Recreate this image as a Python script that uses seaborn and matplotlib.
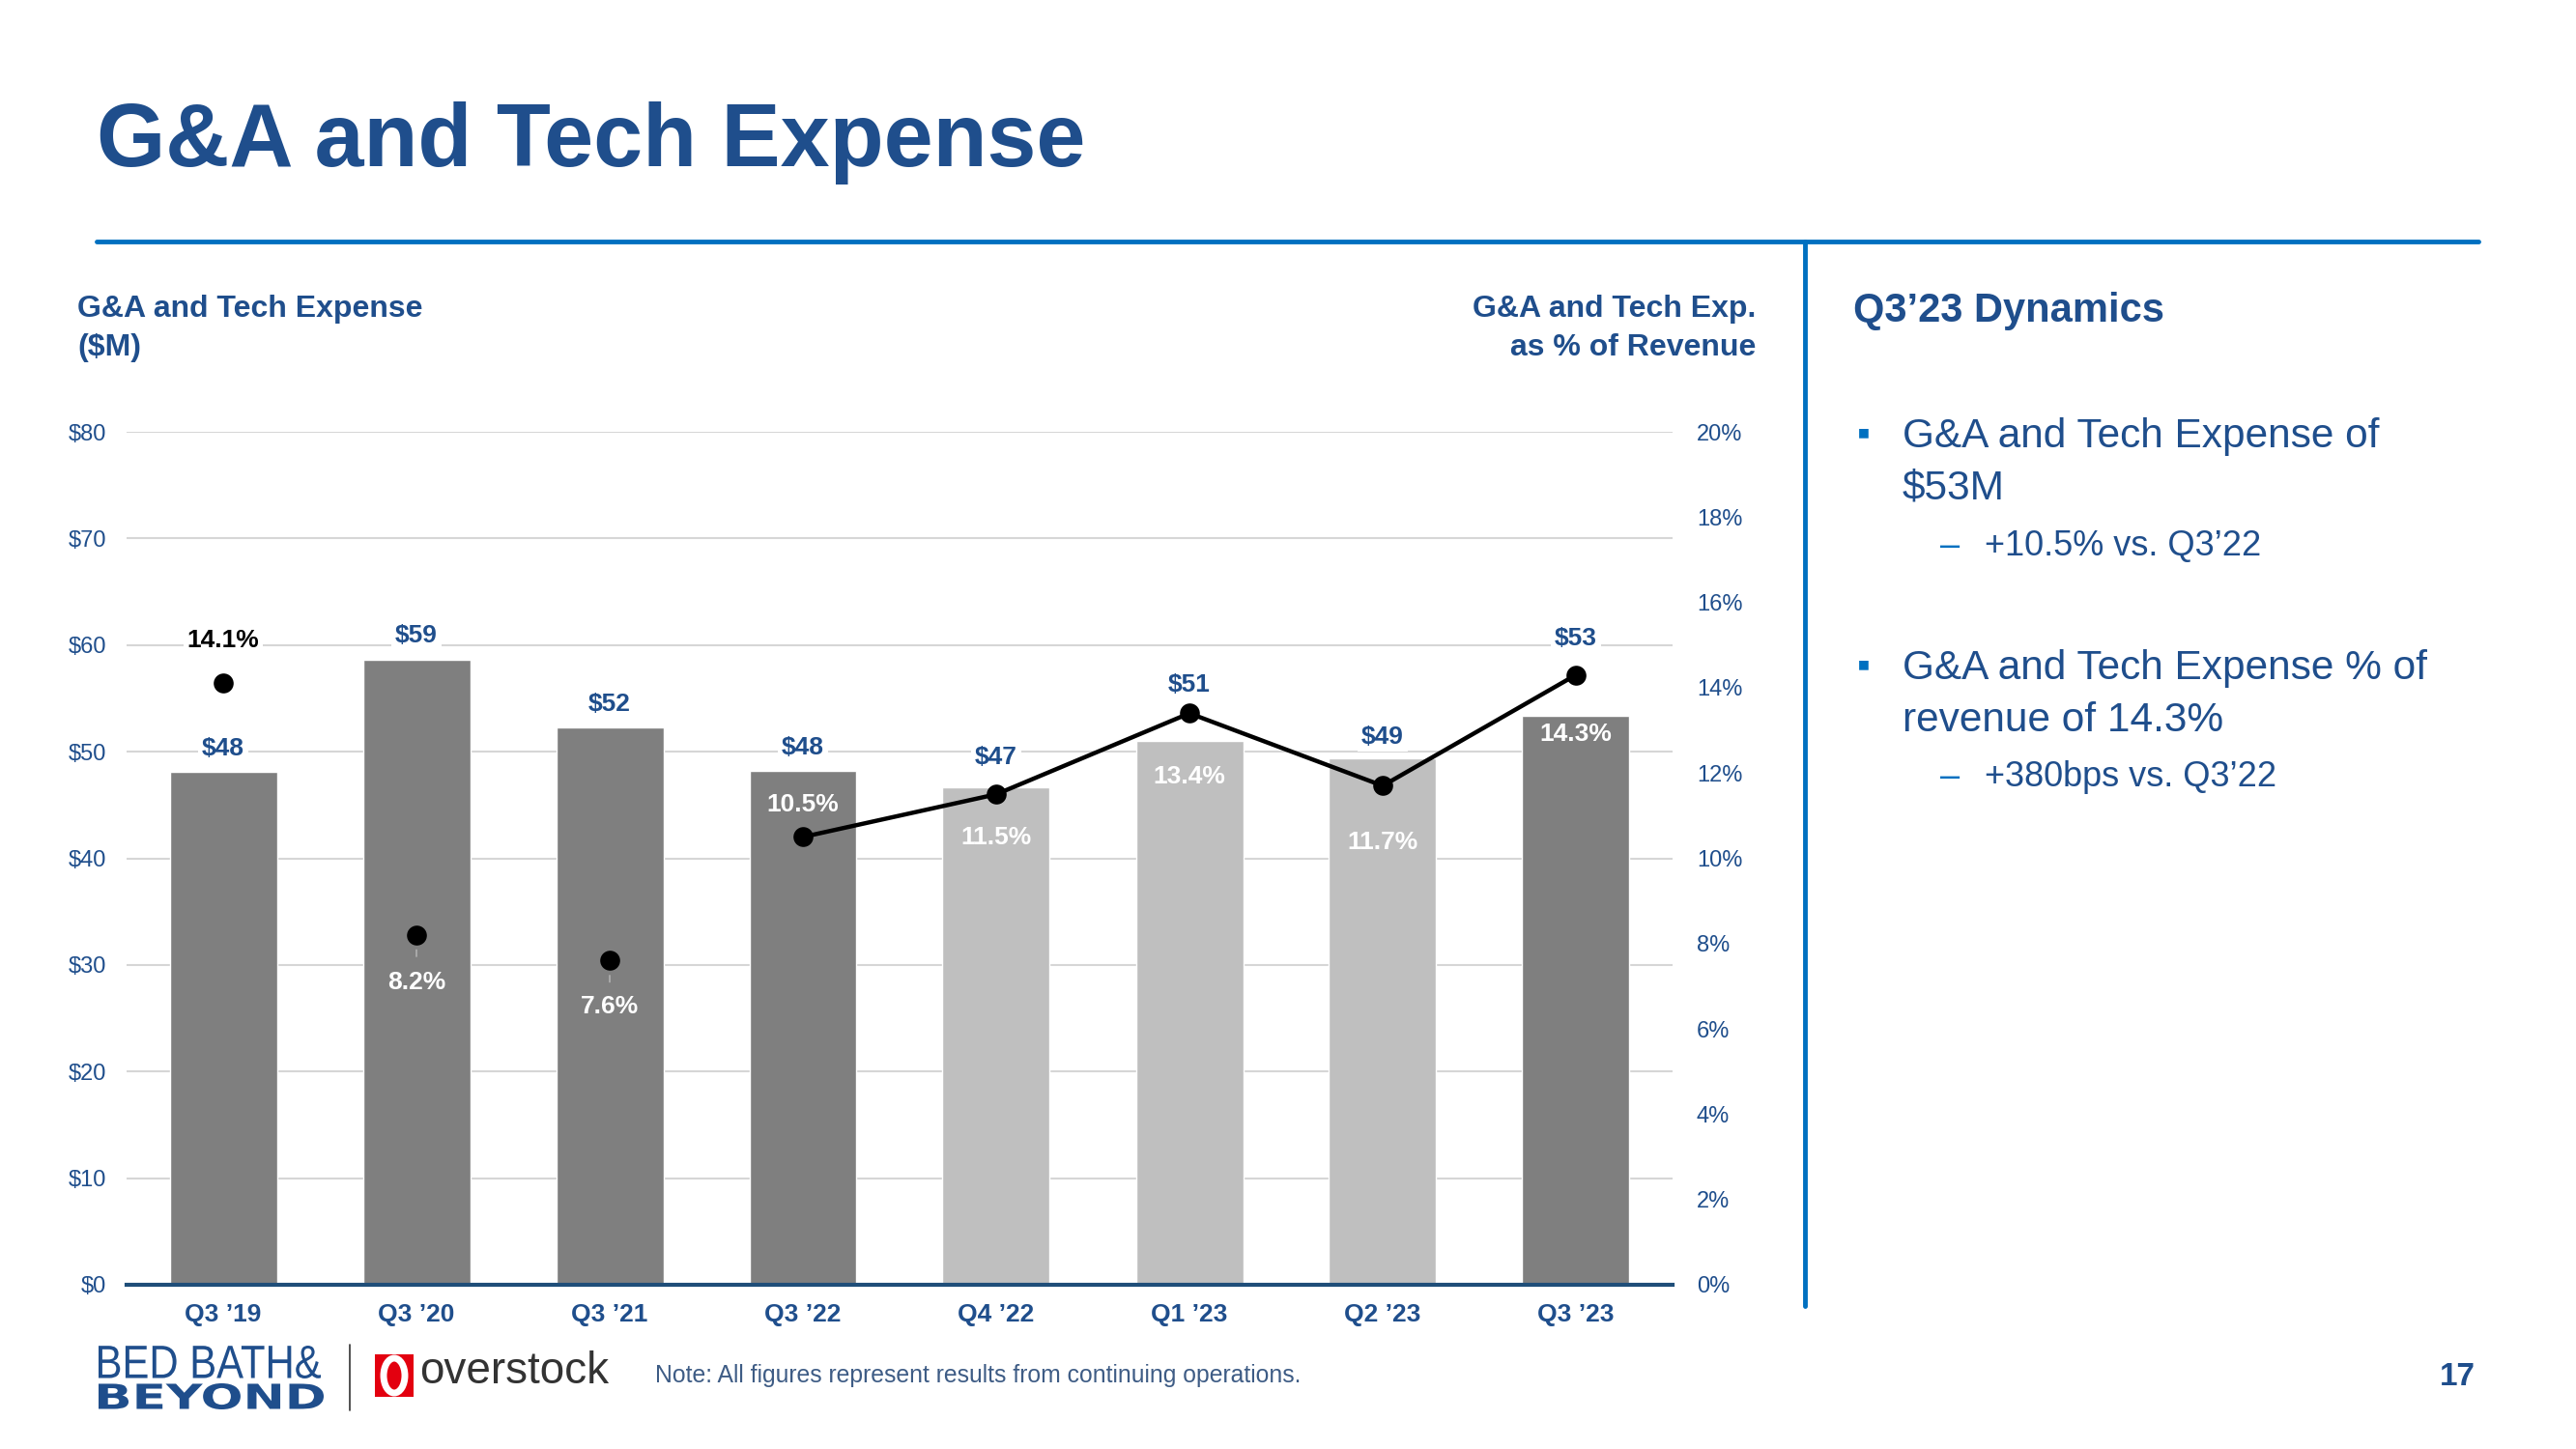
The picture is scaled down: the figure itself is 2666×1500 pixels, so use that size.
import matplotlib
matplotlib.use("Agg")
import matplotlib.pyplot as plt
import seaborn as sns
import numpy as np
import pandas as pd
from matplotlib.patches import Rectangle, Ellipse, PathPatch
from matplotlib.lines import Line2D
from matplotlib.textpath import TextPath
from matplotlib.font_manager import FontProperties
from matplotlib.transforms import Affine2D

# ---------------- data ----------------
categories = ["Q3 \u201919", "Q3 \u201920", "Q3 \u201921", "Q3 \u201922",
              "Q4 \u201922", "Q1 \u201923", "Q2 \u201923", "Q3 \u201923"]
expense_musd = [48.1, 58.6, 52.3, 48.2, 46.7, 51.0, 49.4, 53.4]
pct_revenue = [14.1, 8.2, 7.6, 10.5, 11.5, 13.4, 11.7, 14.3]
is_q3 = [True, True, True, True, False, False, False, True]
connected_from = 3  # line connects from Q3 '22 onward

left_ticks = [0, 10, 20, 30, 40, 50, 60, 70, 80]
right_ticks = [0, 2, 4, 6, 8, 10, 12, 14, 16, 18, 20]

# label placement (offset in points from the mark)
value_label_offsets = [17, 18, 17, 17, 22, 42, 16, 57]
pct_label_offsets = [32, -35, -34, 24, -32, -47, -42, -44]

# ---------------- style ----------------
sns.set_theme(style="white")
plt.rcParams["font.family"] = ["Liberation Sans", "DejaVu Sans"]

NAVY = "#1F4E8C"
BRIGHT = "#0070C0"
DARK_BAR = "#7F7F7F"
LIGHT_BAR = "#BFBFBF"
GRID = "#D6D6D6"

W, H = 2666, 1500
fig = plt.figure(figsize=(W / 100, H / 100), dpi=100)
fig.patch.set_facecolor("white")

def fx(px):
    return px / W

def fy(py):
    return 1 - py / H

def fitted_text(s, x0, x1, ytop, ybot, color, family, weight="normal"):
    """Draw text as a path stretched to fill a pixel box (for logo wordmarks)."""
    tp = TextPath((0, 0), s, size=1, prop=FontProperties(family=family, weight=weight))
    ext = tp.get_extents()
    sx = (x1 - x0) / ext.width
    sy = (ybot - ytop) / ext.height
    tr = (Affine2D().translate(-ext.x0, -ext.y0).scale(sx / W, sy / H)
          .translate(fx(x0), fy(ybot)) + fig.transFigure)
    fig.add_artist(PathPatch(tp, transform=tr, facecolor=color, edgecolor="none"))

# ---------------- chart ----------------
ax_l, ax_r, ax_t, ax_b = 131, 1731, 447, 1330
ax = fig.add_axes([fx(ax_l), fy(ax_b), fx(ax_r - ax_l), (ax_b - ax_t) / H])

df = pd.DataFrame({"cat": categories, "val": expense_musd,
                   "grp": ["q3" if q else "other" for q in is_q3]})
sns.barplot(data=df, x="cat", y="val", hue="grp",
            palette={"q3": DARK_BAR, "other": LIGHT_BAR},
            dodge=False, width=0.555, legend=False, ax=ax,
            saturation=1, zorder=2)

ax.set_ylim(0, 80)
ax.set_xlim(-0.5, len(categories) - 0.5)
ax.set_yticks(left_ticks)
ax.set_yticklabels([f"${v}" for v in left_ticks])
ax.yaxis.grid(True, color=GRID, linewidth=1.5, zorder=0)
ax.set_axisbelow(True)
for s in ["top", "right", "left"]:
    ax.spines[s].set_visible(False)
ax.spines["bottom"].set_color("#1F4E79")
ax.spines["bottom"].set_linewidth(3)
ax.tick_params(axis="y", length=0, pad=15, labelsize=17, labelcolor=NAVY)
ax.tick_params(axis="x", length=0, pad=14, labelsize=19, labelcolor=NAVY)
for t in ax.get_xticklabels():
    t.set_fontweight("bold")
ax.set_xlabel("")
ax.set_ylabel("")

# secondary axis for percent
ax2 = ax.twinx()
ax2.set_ylim(0, 20)
ax2.set_yticks(right_ticks)
ax2.set_yticklabels([f"{v}%" for v in right_ticks])
ax2.tick_params(axis="y", length=0, pad=18, labelsize=17, labelcolor=NAVY)
for s in ["top", "right", "left", "bottom"]:
    ax2.spines[s].set_visible(False)
ax2.grid(False)

xs = np.arange(len(categories))
line_df = pd.DataFrame({"x": xs[connected_from:], "y": pct_revenue[connected_from:]})
sns.lineplot(data=line_df, x="x", y="y", ax=ax2, color="black", linewidth=3.2, zorder=4)
sns.scatterplot(x=xs, y=pct_revenue, ax=ax2, color="black", s=220, edgecolor="black",
                linewidth=0, zorder=5)
ax2.set_xlabel("")
ax2.set_ylabel("")
ax2.set_xlim(-0.5, len(categories) - 0.5)

# bar value labels (drawn on top axis so they sit above the line)
for i, v in enumerate(expense_musd):
    ax2.annotate(f"${round(v)}", (i, v), xycoords=ax.transData,
                 xytext=(0, value_label_offsets[i]), textcoords="offset points",
                 ha="center", va="center", fontsize=19, fontweight="bold", color=NAVY,
                 zorder=7,
                 bbox=dict(boxstyle="square,pad=0.15", fc="white", ec="none"))

for i, p in enumerate(pct_revenue):
    boxed = i == 0
    ax2.annotate(f"{p}%", (i, p), xytext=(0, pct_label_offsets[i]), textcoords="offset points",
                 ha="center", va="center", fontsize=19, fontweight="bold",
                 color="black" if boxed else "white", zorder=6,
                 bbox=dict(boxstyle="square,pad=0.15", fc="white", ec="none") if boxed else None)
    if not boxed and pct_label_offsets[i] < 0 and i < connected_from:
        # tiny leader tick between isolated dot and its label
        ax2.annotate("", (i, p), xytext=(0, -16), textcoords="offset points",
                     arrowprops=dict(arrowstyle="-", color="#BBBBBB", lw=1,
                                     shrinkA=0, shrinkB=11))

# axis headers
fig.text(fx(80), fy(340), "G&A and Tech Expense\n($M)", ha="left", va="center",
         fontsize=23, fontweight="bold", color=NAVY, linespacing=1.45)
fig.text(fx(1817), fy(340), "G&A and Tech Exp.\nas % of Revenue", ha="right", va="center",
         fontsize=23, fontweight="bold", color=NAVY, linespacing=1.45)

# ---------------- slide decorations ----------------
fig.text(fx(100), fy(148), "G&A and Tech Expense", ha="left", va="center",
         fontsize=66, fontweight="bold", color=NAVY)
fig.add_artist(Line2D([fx(100), fx(2565)], [fy(250), fy(250)], color=BRIGHT, linewidth=3.5))
fig.add_artist(Line2D([fx(1868), fx(1868)], [fy(250), fy(1352)], color=BRIGHT, linewidth=3.5))

# right panel
fig.text(fx(1918), fy(322), "Q3\u201923 Dynamics", ha="left", va="center",
         fontsize=30, fontweight="bold", color=NAVY)
bullets = [
    (452, ["G&A and Tech Expense of", "$53M"], "+10.5% vs. Q3\u201922", 565),
    (692, ["G&A and Tech Expense % of", "revenue of 14.3%"], "+380bps vs. Q3\u201922", 805),
]
for y0, lines, sub, ysub in bullets:
    fig.text(fx(1922), fy(y0 - 2), "\u25aa", ha="left", va="center", fontsize=28, color=BRIGHT)
    fig.text(fx(1969), fy(y0), lines[0], ha="left", va="center", fontsize=30.5, color=NAVY)
    fig.text(fx(1969), fy(y0 + 54), lines[1], ha="left", va="center", fontsize=30.5, color=NAVY)
    fig.text(fx(2008), fy(ysub), "\u2013", ha="left", va="center", fontsize=26, color=BRIGHT)
    fig.text(fx(2054), fy(ysub), sub, ha="left", va="center", fontsize=26, color=NAVY)

# footer logos
fitted_text("BED BATH&", 102, 332, 1393, 1427, NAVY,
            ["Liberation Sans Narrow", "Liberation Sans"])
fitted_text("BEYOND", 102, 335, 1432, 1459, NAVY, ["DejaVu Sans"], weight="bold")
fig.add_artist(Line2D([fx(362), fx(362)], [fy(1392), fy(1460)], color="#333333", linewidth=1.2))
fig.add_artist(Rectangle((fx(388), fy(1446)), fx(40), (1446 - 1402) / H,
                         facecolor="#E3000F", edgecolor="none"))
fig.add_artist(Ellipse((fx(408), fy(1424)), fx(22), 36 / H, facecolor="none",
                       edgecolor="white", linewidth=5))
fig.text(fx(434), fy(1420), "overstock", ha="left", va="center", fontsize=33,
         color="#333333")
fig.text(fx(678), fy(1424), "Note: All figures represent results from continuing operations.",
         ha="left", va="center", fontsize=17.8, color="#3E5C85")
fig.text(fx(2562), fy(1425), "17", ha="right", va="center", fontsize=24,
         fontweight="bold", color=NAVY)

fig.savefig("out.png", dpi=100, facecolor="white")
